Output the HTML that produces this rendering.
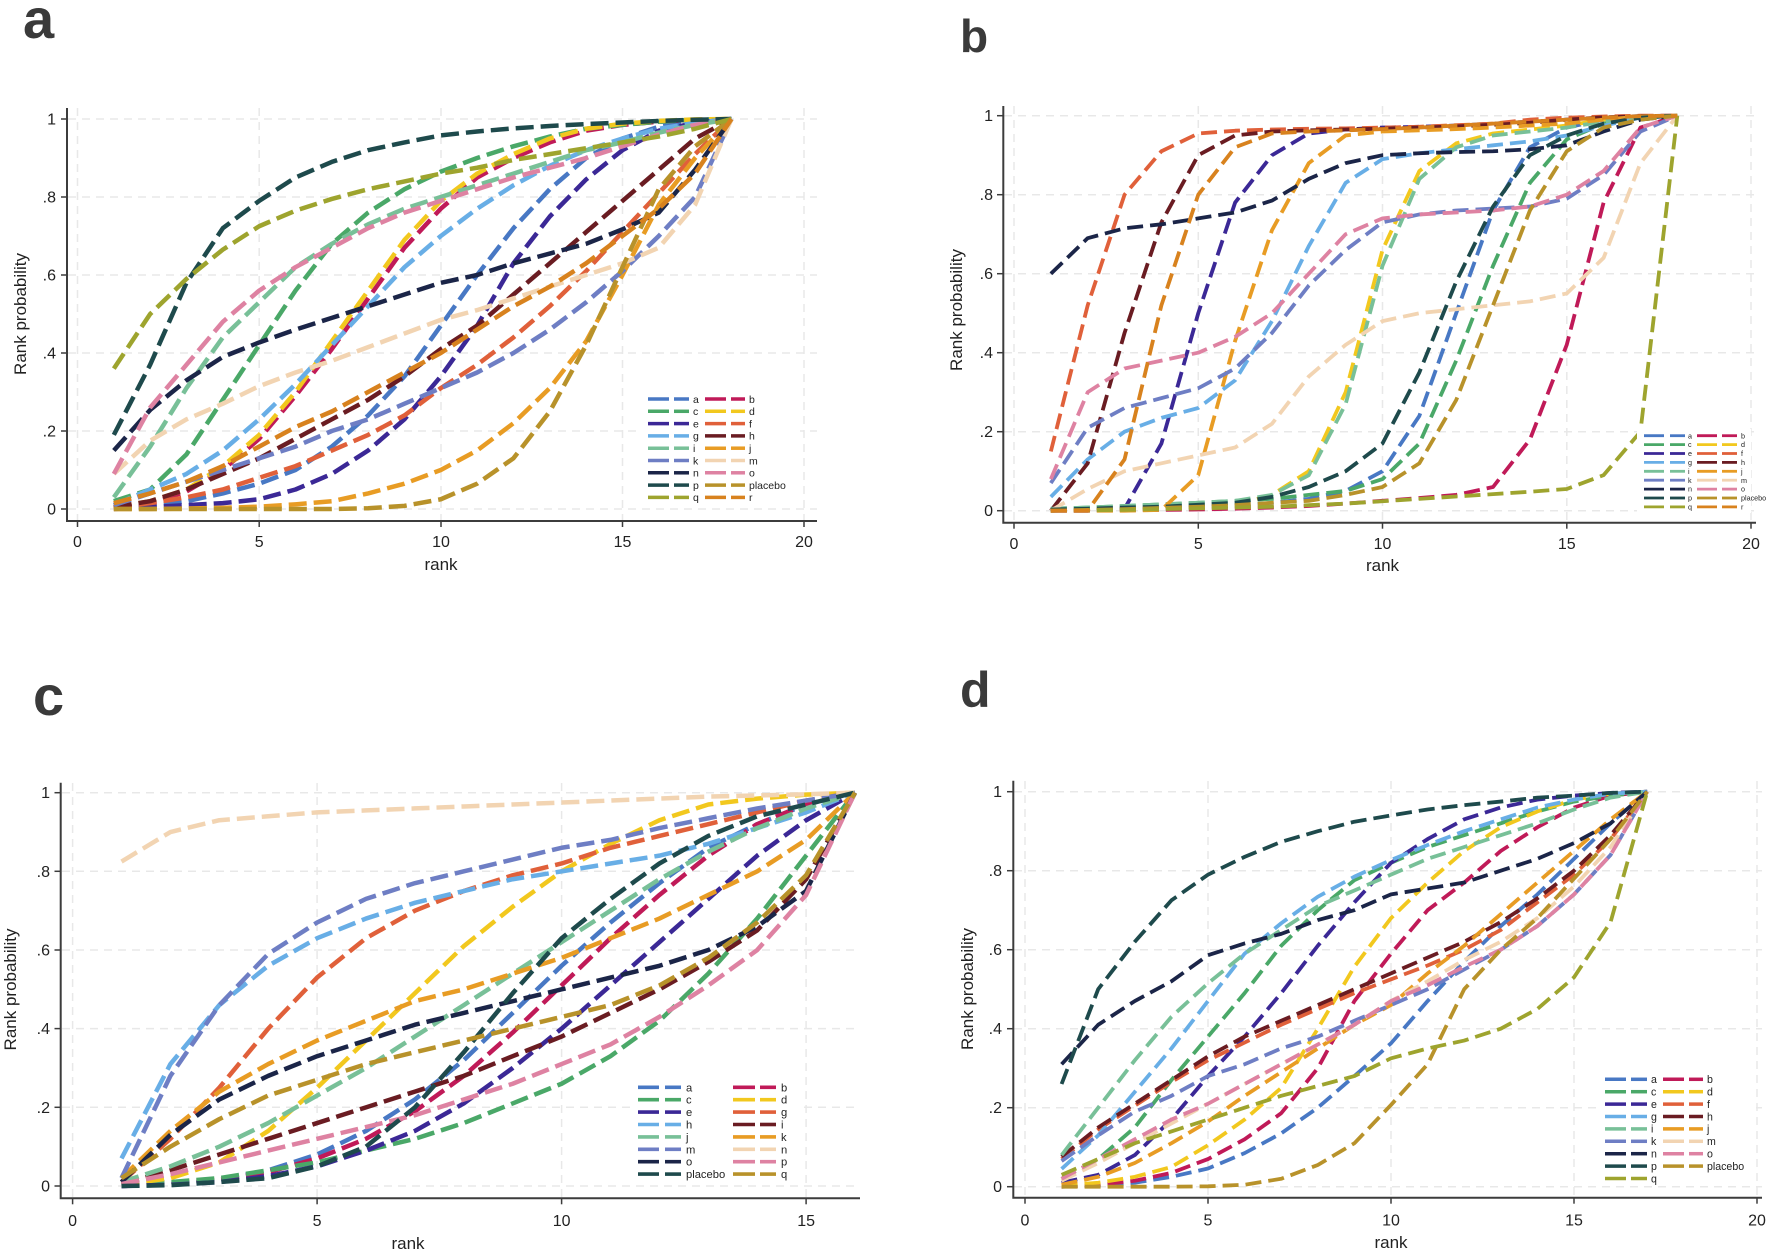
<!DOCTYPE html>
<html><head><meta charset="utf-8">
<style>
html,body{margin:0;padding:0;background:#fff;}
svg{display:block;font-family:"Liberation Sans",Arial,sans-serif;}
.g{stroke:#e8e8e8;stroke-width:1.5;stroke-dasharray:8 6;fill:none}
.ax{stroke:#3c3c3c;stroke-width:2;fill:none}
.tk{stroke:#3c3c3c;stroke-width:1.5}
.t{font-size:16px;fill:#222}
.tt{font-size:17px;fill:#222}
.L{fill:none;stroke-width:4.5;stroke-dasharray:18 7;vector-effect:non-scaling-stroke;stroke-linejoin:round}
.M{fill:none;stroke-width:3.8;stroke-dasharray:16 7;vector-effect:non-scaling-stroke;stroke-linejoin:round}
.c1{stroke:#4878c4}.c2{stroke:#c01a58}.c3{stroke:#4aa868}.c4{stroke:#f2c81e}.c5{stroke:#3b2896}.c6{stroke:#e0603a}
.c7{stroke:#68aee6}.c8{stroke:#6a1c22}.c9{stroke:#78c098}.c10{stroke:#e89c24}.c11{stroke:#6e7ec4}.c12{stroke:#f2d4b2}
.c13{stroke:#1b2548}.c14{stroke:#de82a2}.c15{stroke:#1e4a4c}.c16{stroke:#b8922a}.c17{stroke:#9ea42e}.c18{stroke:#d8821e}
.lab{font-weight:bold;fill:#3a3a3a}
</style></head>
<body>
<svg width="1772" height="1252" viewBox="0 0 1772 1252" xmlns="http://www.w3.org/2000/svg">
<rect width="1772" height="1252" fill="#fff"/>

<!-- Panel letters -->
<text class="lab" x="23" y="38" font-size="56">a</text>
<text class="lab" x="960" y="52" font-size="46">b</text>
<text class="lab" x="33" y="715" font-size="56">c</text>
<text class="lab" x="960" y="707" font-size="50">d</text>

<!-- ================= PANEL A ================= -->
<g>
<line class="g" x1="77.5" y1="108" x2="77.5" y2="520"/>
<line class="g" x1="259.2" y1="108" x2="259.2" y2="520"/>
<line class="g" x1="441" y1="108" x2="441" y2="520"/>
<line class="g" x1="622.5" y1="108" x2="622.5" y2="520"/>
<line class="g" x1="804" y1="108" x2="804" y2="520"/>
<line class="g" x1="68" y1="119" x2="817" y2="119"/>
<line class="g" x1="68" y1="197" x2="817" y2="197"/>
<line class="g" x1="68" y1="275" x2="817" y2="275"/>
<line class="g" x1="68" y1="353" x2="817" y2="353"/>
<line class="g" x1="68" y1="431" x2="817" y2="431"/>
<line class="g" x1="68" y1="509" x2="817" y2="509"/>
<polyline class="ax" points="67,108 67,521 817,521"/>
<g class="tk">
<line x1="61" y1="119" x2="67" y2="119"/><line x1="61" y1="197" x2="67" y2="197"/><line x1="61" y1="275" x2="67" y2="275"/>
<line x1="61" y1="353" x2="67" y2="353"/><line x1="61" y1="431" x2="67" y2="431"/><line x1="61" y1="509" x2="67" y2="509"/>
<line x1="77.5" y1="521" x2="77.5" y2="527"/><line x1="259.2" y1="521" x2="259.2" y2="527"/><line x1="441" y1="521" x2="441" y2="527"/>
<line x1="622.5" y1="521" x2="622.5" y2="527"/><line x1="804" y1="521" x2="804" y2="527"/>
</g>
<g class="t" text-anchor="end">
<text x="56" y="124.5">1</text><text x="56" y="202.5">.8</text><text x="56" y="280.5">.6</text>
<text x="56" y="358.5">.4</text><text x="56" y="436.5">.2</text><text x="56" y="514.5">0</text>
</g>
<g class="t" text-anchor="middle">
<text x="77.5" y="547">0</text><text x="259.2" y="547">5</text><text x="441" y="547">10</text>
<text x="622.5" y="547">15</text><text x="804" y="547">20</text>
</g>
<text class="tt" x="441" y="570" text-anchor="middle">rank</text>
<text class="tt" transform="translate(26,314) rotate(-90)" text-anchor="middle">Rank probability</text>

<g transform="translate(77.5,509) scale(36.33,-390)">
<polyline class="L c1" points="1,.005 2,.01 3,.02 4,.04 5,.065 6,.1 7,.16 8,.24 9,.34 10,.47 11,.6 12,.72 13,.82 14,.9 15,.95 16,.98 17,.995 18,1"/>
<polyline class="L c2" points="1,.005 2,.015 3,.045 4,.1 5,.18 6,.29 7,.41 8,.54 9,.67 10,.77 11,.85 12,.9 13,.94 14,.97 15,.985 16,.993 17,.998 18,1"/>
<polyline class="L c3" points="1,.02 2,.05 3,.14 4,.28 5,.42 6,.56 7,.68 8,.76 9,.82 10,.865 11,.9 12,.93 13,.955 14,.975 15,.985 16,.993 17,.998 18,1"/>
<polyline class="L c4" points="1,.005 2,.02 3,.05 4,.11 5,.19 6,.3 7,.43 8,.56 9,.69 10,.79 11,.86 12,.91 13,.95 14,.975 15,.988 16,.995 17,.999 18,1"/>
<polyline class="L c5" points="1,0 2,.005 3,.01 4,.015 5,.025 6,.05 7,.09 8,.15 9,.23 10,.34 11,.47 12,.63 13,.75 14,.845 15,.92 16,.97 17,.99 18,1"/>
<polyline class="L c6" points="1,.005 2,.015 3,.03 4,.05 5,.08 6,.11 7,.15 8,.19 9,.24 10,.31 11,.37 12,.44 13,.52 14,.61 15,.71 16,.81 17,.91 18,1"/>
<polyline class="L c7" points="1,.01 2,.05 3,.09 4,.15 5,.23 6,.32 7,.42 8,.52 9,.62 10,.7 11,.77 12,.83 13,.88 14,.92 15,.95 16,.975 17,.99 18,1"/>
<polyline class="L c8" points="1,.005 2,.02 3,.05 4,.09 5,.13 6,.18 7,.23 8,.28 9,.34 10,.41 11,.47 12,.55 13,.63 14,.71 15,.79 16,.87 17,.95 18,1"/>
<polyline class="L c9" points="1,.03 2,.16 3,.31 4,.44 5,.53 6,.62 7,.68 8,.73 9,.77 10,.8 11,.83 12,.86 13,.89 14,.92 15,.94 16,.965 17,.985 18,1"/>
<polyline class="L c10" points="1,0 2,0 3,.001 4,.003 5,.006 6,.012 7,.02 8,.04 9,.065 10,.1 11,.15 12,.22 13,.31 14,.43 15,.6 16,.78 17,.9 18,1"/>
<polyline class="L c11" points="1,.01 2,.04 3,.07 4,.1 5,.13 6,.16 7,.2 8,.23 9,.27 10,.31 11,.35 12,.4 13,.46 14,.53 15,.61 16,.7 17,.8 18,1"/>
<polyline class="L c12" points="1,.09 2,.175 3,.23 4,.27 5,.315 6,.35 7,.38 8,.415 9,.45 10,.485 11,.51 12,.54 13,.57 14,.6 15,.63 16,.67 17,.78 18,1"/>
<polyline class="L c13" points="1,.15 2,.254 3,.33 4,.39 5,.427 6,.46 7,.49 8,.52 9,.55 10,.58 11,.6 12,.63 13,.655 14,.68 15,.717 16,.76 17,.87 18,1"/>
<polyline class="L c14" points="1,.09 2,.26 3,.37 4,.48 5,.56 6,.62 7,.67 8,.72 9,.76 10,.79 11,.82 12,.85 13,.875 14,.9 15,.93 16,.96 17,.985 18,1"/>
<polyline class="L c15" points="1,.19 2,.37 3,.58 4,.72 5,.79 6,.85 7,.89 8,.92 9,.94 10,.958 11,.968 12,.976 13,.982 14,.987 15,.991 16,.995 17,.998 18,1"/>
<polyline class="L c16" points="1,0 2,0 3,0 4,0 5,0 6,0 7,0 8,.002 9,.008 10,.025 11,.065 12,.13 13,.25 14,.42 15,.62 16,.82 17,.93 18,1"/>
<polyline class="L c17" points="1,.36 2,.5 3,.59 4,.665 5,.725 6,.765 7,.795 8,.82 9,.84 10,.86 11,.875 12,.895 13,.91 14,.925 15,.94 16,.955 17,.975 18,1"/>
<polyline class="L c18" points="1,.015 2,.04 3,.07 4,.11 5,.16 6,.21 7,.25 8,.3 9,.35 10,.4 11,.46 12,.52 13,.57 14,.63 15,.7 16,.77 17,.86 18,1"/>
</g>

<!-- legend a -->
<rect x="640" y="390" width="160" height="116" fill="#fff"/>
<g stroke-width="3.5" font-size="10.5" fill="#222">
<g transform="translate(0,399)"><line class="c1" x1="648" x2="669" y1="0" y2="0"/><line class="c1" x1="674" x2="689" y1="0" y2="0"/><text x="693" y="3.8">a</text><line class="c2" x1="705" x2="726" y1="0" y2="0"/><line class="c2" x1="731" x2="745" y1="0" y2="0"/><text x="749" y="3.8">b</text></g>
<g transform="translate(0,411.3)"><line class="c3" x1="648" x2="669" y1="0" y2="0"/><line class="c3" x1="674" x2="689" y1="0" y2="0"/><text x="693" y="3.8">c</text><line class="c4" x1="705" x2="726" y1="0" y2="0"/><line class="c4" x1="731" x2="745" y1="0" y2="0"/><text x="749" y="3.8">d</text></g>
<g transform="translate(0,423.6)"><line class="c5" x1="648" x2="669" y1="0" y2="0"/><line class="c5" x1="674" x2="689" y1="0" y2="0"/><text x="693" y="3.8">e</text><line class="c6" x1="705" x2="726" y1="0" y2="0"/><line class="c6" x1="731" x2="745" y1="0" y2="0"/><text x="749" y="3.8">f</text></g>
<g transform="translate(0,435.9)"><line class="c7" x1="648" x2="669" y1="0" y2="0"/><line class="c7" x1="674" x2="689" y1="0" y2="0"/><text x="693" y="3.8">g</text><line class="c8" x1="705" x2="726" y1="0" y2="0"/><line class="c8" x1="731" x2="745" y1="0" y2="0"/><text x="749" y="3.8">h</text></g>
<g transform="translate(0,448.2)"><line class="c9" x1="648" x2="669" y1="0" y2="0"/><line class="c9" x1="674" x2="689" y1="0" y2="0"/><text x="693" y="3.8">i</text><line class="c10" x1="705" x2="726" y1="0" y2="0"/><line class="c10" x1="731" x2="745" y1="0" y2="0"/><text x="749" y="3.8">j</text></g>
<g transform="translate(0,460.5)"><line class="c11" x1="648" x2="669" y1="0" y2="0"/><line class="c11" x1="674" x2="689" y1="0" y2="0"/><text x="693" y="3.8">k</text><line class="c12" x1="705" x2="726" y1="0" y2="0"/><line class="c12" x1="731" x2="745" y1="0" y2="0"/><text x="749" y="3.8">m</text></g>
<g transform="translate(0,472.8)"><line class="c13" x1="648" x2="669" y1="0" y2="0"/><line class="c13" x1="674" x2="689" y1="0" y2="0"/><text x="693" y="3.8">n</text><line class="c14" x1="705" x2="726" y1="0" y2="0"/><line class="c14" x1="731" x2="745" y1="0" y2="0"/><text x="749" y="3.8">o</text></g>
<g transform="translate(0,485.1)"><line class="c15" x1="648" x2="669" y1="0" y2="0"/><line class="c15" x1="674" x2="689" y1="0" y2="0"/><text x="693" y="3.8">p</text><line class="c16" x1="705" x2="726" y1="0" y2="0"/><line class="c16" x1="731" x2="745" y1="0" y2="0"/><text x="749" y="3.8">placebo</text></g>
<g transform="translate(0,497.4)"><line class="c17" x1="648" x2="669" y1="0" y2="0"/><line class="c17" x1="674" x2="689" y1="0" y2="0"/><text x="693" y="3.8">q</text><line class="c18" x1="705" x2="726" y1="0" y2="0"/><line class="c18" x1="731" x2="745" y1="0" y2="0"/><text x="749" y="3.8">r</text></g>
</g>
</g>

<!-- ================= PANEL B ================= -->
<g>
<line class="g" x1="1014" y1="106" x2="1014" y2="522"/>
<line class="g" x1="1198.3" y1="106" x2="1198.3" y2="522"/>
<line class="g" x1="1382.5" y1="106" x2="1382.5" y2="522"/>
<line class="g" x1="1566.8" y1="106" x2="1566.8" y2="522"/>
<line class="g" x1="1751" y1="106" x2="1751" y2="522"/>
<line class="g" x1="1004" y1="115.7" x2="1756" y2="115.7"/>
<line class="g" x1="1004" y1="194.7" x2="1756" y2="194.7"/>
<line class="g" x1="1004" y1="273.7" x2="1756" y2="273.7"/>
<line class="g" x1="1004" y1="352.7" x2="1756" y2="352.7"/>
<line class="g" x1="1004" y1="431.7" x2="1756" y2="431.7"/>
<line class="g" x1="1004" y1="510.7" x2="1756" y2="510.7"/>
<polyline class="ax" points="1003.3,106 1003.3,522.7 1756,522.7"/>
<g class="tk">
<line x1="997" y1="115.7" x2="1003" y2="115.7"/><line x1="997" y1="194.7" x2="1003" y2="194.7"/><line x1="997" y1="273.7" x2="1003" y2="273.7"/>
<line x1="997" y1="352.7" x2="1003" y2="352.7"/><line x1="997" y1="431.7" x2="1003" y2="431.7"/><line x1="997" y1="510.7" x2="1003" y2="510.7"/>
<line x1="1014" y1="522.7" x2="1014" y2="528.7"/><line x1="1198.3" y1="522.7" x2="1198.3" y2="528.7"/><line x1="1382.5" y1="522.7" x2="1382.5" y2="528.7"/>
<line x1="1566.8" y1="522.7" x2="1566.8" y2="528.7"/><line x1="1751" y1="522.7" x2="1751" y2="528.7"/>
</g>
<g class="t" text-anchor="end">
<text x="993" y="121.2">1</text><text x="993" y="200.2">.8</text><text x="993" y="279.2">.6</text>
<text x="993" y="358.2">.4</text><text x="993" y="437.2">.2</text><text x="993" y="516.2">0</text>
</g>
<g class="t" text-anchor="middle">
<text x="1014" y="549">0</text><text x="1198.3" y="549">5</text><text x="1382.5" y="549">10</text>
<text x="1566.8" y="549">15</text><text x="1751" y="549">20</text>
</g>
<text class="tt" x="1382.5" y="571" text-anchor="middle">rank</text>
<text class="tt" transform="translate(962,310) rotate(-90)" text-anchor="middle">Rank probability</text>

<g transform="translate(1014,510.7) scale(36.85,-395)">
<polyline class="M c1" points="1,0 2,.001 3,.003 4,.005 5,.008 6,.012 7,.02 8,.03 9,.05 10,.1 11,.24 12,.5 13,.76 14,.92 15,.97 16,.99 17,.998 18,1"/>
<polyline class="M c2" points="1,0 2,0 3,.001 4,.002 5,.003 6,.005 7,.008 8,.012 9,.018 10,.025 11,.032 12,.04 13,.06 14,.18 15,.42 16,.78 17,.97 18,1"/>
<polyline class="M c3" points="1,.005 2,.008 3,.012 4,.016 5,.02 6,.025 7,.03 8,.04 9,.05 10,.08 11,.17 12,.38 13,.62 14,.83 15,.94 16,.98 17,.995 18,1"/>
<polyline class="M c4" points="1,0 2,.002 3,.004 4,.007 5,.01 6,.015 7,.04 8,.1 9,.3 10,.66 11,.86 12,.93 13,.955 14,.965 15,.975 16,.99 17,.998 18,1"/>
<polyline class="M c5" points="1,0 2,0 3,.005 4,.17 5,.5 6,.78 7,.9 8,.955 9,.965 10,.97 11,.972 12,.975 13,.98 14,.985 15,.99 16,.995 17,.999 18,1"/>
<polyline class="M c6" points="1,.15 2,.52 3,.8 4,.91 5,.955 6,.962 7,.965 8,.967 9,.968 10,.97 11,.972 12,.976 13,.98 14,.99 15,.995 16,.998 17,1 18,1"/>
<polyline class="M c7" points="1,.035 2,.13 3,.2 4,.235 5,.26 6,.33 7,.48 8,.67 9,.83 10,.89 11,.905 12,.915 13,.925 14,.935 15,.95 16,.975 17,.995 18,1"/>
<polyline class="M c8" points="1,0 2,.12 3,.45 4,.73 5,.9 6,.95 7,.96 8,.963 9,.965 10,.967 11,.97 12,.973 13,.977 14,.982 15,.99 16,.996 17,.999 18,1"/>
<polyline class="M c9" points="1,.005 2,.008 3,.012 4,.016 5,.02 6,.025 7,.04 8,.09 9,.27 10,.62 11,.84 12,.92 13,.95 14,.96 15,.97 16,.985 17,.997 18,1"/>
<polyline class="M c10" points="1,0 2,0 3,0 4,.002 5,.09 6,.43 7,.71 8,.88 9,.95 10,.96 11,.963 12,.966 13,.97 14,.975 15,.98 16,.99 17,.998 18,1"/>
<polyline class="M c11" points="1,.07 2,.21 3,.26 4,.285 5,.31 6,.36 7,.45 8,.57 9,.66 10,.73 11,.75 12,.76 13,.765 14,.77 15,.79 16,.85 17,.96 18,1"/>
<polyline class="M c12" points="1,0 2,.055 3,.1 4,.12 5,.14 6,.16 7,.22 8,.34 9,.42 10,.48 11,.5 12,.51 13,.52 14,.53 15,.55 16,.64 17,.88 18,1"/>
<polyline class="M c13" points="1,.6 2,.69 3,.715 4,.725 5,.74 6,.755 7,.785 8,.84 9,.88 10,.9 11,.905 12,.908 13,.91 14,.915 15,.925 16,.96 17,.99 18,1"/>
<polyline class="M c14" points="1,.08 2,.3 3,.36 4,.38 5,.4 6,.44 7,.5 8,.6 9,.7 10,.74 11,.75 12,.755 13,.76 14,.77 15,.8 16,.86 17,.97 18,1"/>
<polyline class="M c15" points="1,.003 2,.005 3,.008 4,.01 5,.015 6,.02 7,.035 8,.06 9,.1 10,.17 11,.35 12,.58 13,.77 14,.9 15,.95 16,.98 17,.995 18,1"/>
<polyline class="M c16" points="1,0 2,.002 3,.004 4,.007 5,.01 6,.014 7,.02 8,.025 9,.04 10,.06 11,.12 12,.28 13,.52 14,.76 15,.91 16,.97 17,.99 18,1"/>
<polyline class="M c17" points="1,0 2,.001 3,.002 4,.004 5,.006 6,.008 7,.01 8,.014 9,.018 10,.024 11,.03 12,.036 13,.042 14,.048 15,.055 16,.09 17,.2 18,1"/>
<polyline class="M c18" points="1,0 2,0 3,.13 4,.52 5,.8 6,.92 7,.955 8,.96 9,.963 10,.966 11,.97 12,.975 13,.98 14,.985 15,.99 16,.995 17,.999 18,1"/>
</g>

<!-- legend b -->
<rect x="1637" y="429" width="114" height="84" fill="#fff"/>
<g stroke-width="2.8" font-size="7.2" fill="#222">
<g transform="translate(0,435.7)"><line class="c1" x1="1644" x2="1664" y1="0" y2="0"/><line class="c1" x1="1670" x2="1685" y1="0" y2="0"/><text x="1688" y="2.6">a</text><line class="c2" x1="1697" x2="1717" y1="0" y2="0"/><line class="c2" x1="1722" x2="1737" y1="0" y2="0"/><text x="1741" y="2.6">b</text></g>
<g transform="translate(0,444.6)"><line class="c3" x1="1644" x2="1664" y1="0" y2="0"/><line class="c3" x1="1670" x2="1685" y1="0" y2="0"/><text x="1688" y="2.6">c</text><line class="c4" x1="1697" x2="1717" y1="0" y2="0"/><line class="c4" x1="1722" x2="1737" y1="0" y2="0"/><text x="1741" y="2.6">d</text></g>
<g transform="translate(0,453.5)"><line class="c5" x1="1644" x2="1664" y1="0" y2="0"/><line class="c5" x1="1670" x2="1685" y1="0" y2="0"/><text x="1688" y="2.6">e</text><line class="c6" x1="1697" x2="1717" y1="0" y2="0"/><line class="c6" x1="1722" x2="1737" y1="0" y2="0"/><text x="1741" y="2.6">f</text></g>
<g transform="translate(0,462.4)"><line class="c7" x1="1644" x2="1664" y1="0" y2="0"/><line class="c7" x1="1670" x2="1685" y1="0" y2="0"/><text x="1688" y="2.6">g</text><line class="c8" x1="1697" x2="1717" y1="0" y2="0"/><line class="c8" x1="1722" x2="1737" y1="0" y2="0"/><text x="1741" y="2.6">h</text></g>
<g transform="translate(0,471.3)"><line class="c9" x1="1644" x2="1664" y1="0" y2="0"/><line class="c9" x1="1670" x2="1685" y1="0" y2="0"/><text x="1688" y="2.6">i</text><line class="c10" x1="1697" x2="1717" y1="0" y2="0"/><line class="c10" x1="1722" x2="1737" y1="0" y2="0"/><text x="1741" y="2.6">j</text></g>
<g transform="translate(0,480.2)"><line class="c11" x1="1644" x2="1664" y1="0" y2="0"/><line class="c11" x1="1670" x2="1685" y1="0" y2="0"/><text x="1688" y="2.6">k</text><line class="c12" x1="1697" x2="1717" y1="0" y2="0"/><line class="c12" x1="1722" x2="1737" y1="0" y2="0"/><text x="1741" y="2.6">m</text></g>
<g transform="translate(0,489.1)"><line class="c13" x1="1644" x2="1664" y1="0" y2="0"/><line class="c13" x1="1670" x2="1685" y1="0" y2="0"/><text x="1688" y="2.6">n</text><line class="c14" x1="1697" x2="1717" y1="0" y2="0"/><line class="c14" x1="1722" x2="1737" y1="0" y2="0"/><text x="1741" y="2.6">o</text></g>
<g transform="translate(0,498)"><line class="c15" x1="1644" x2="1664" y1="0" y2="0"/><line class="c15" x1="1670" x2="1685" y1="0" y2="0"/><text x="1688" y="2.6">p</text><line class="c16" x1="1697" x2="1717" y1="0" y2="0"/><line class="c16" x1="1722" x2="1737" y1="0" y2="0"/><text x="1741" y="2.6">placebo</text></g>
<g transform="translate(0,506.9)"><line class="c17" x1="1644" x2="1664" y1="0" y2="0"/><line class="c17" x1="1670" x2="1685" y1="0" y2="0"/><text x="1688" y="2.6">q</text><line class="c18" x1="1697" x2="1717" y1="0" y2="0"/><line class="c18" x1="1722" x2="1737" y1="0" y2="0"/><text x="1741" y="2.6">r</text></g>
</g>
</g>

<!-- ================= PANEL C ================= -->
<g>
<line class="g" x1="72.6" y1="783" x2="72.6" y2="1197"/>
<line class="g" x1="317.1" y1="783" x2="317.1" y2="1197"/>
<line class="g" x1="561.6" y1="783" x2="561.6" y2="1197"/>
<line class="g" x1="806.1" y1="783" x2="806.1" y2="1197"/>
<line class="g" x1="62" y1="792.7" x2="860" y2="792.7"/>
<line class="g" x1="62" y1="871.3" x2="860" y2="871.3"/>
<line class="g" x1="62" y1="950" x2="860" y2="950"/>
<line class="g" x1="62" y1="1028.6" x2="860" y2="1028.6"/>
<line class="g" x1="62" y1="1107.3" x2="860" y2="1107.3"/>
<line class="g" x1="62" y1="1186" x2="860" y2="1186"/>
<polyline class="ax" points="60.7,782.7 60.7,1198.3 860,1198.3"/>
<g class="tk">
<line x1="54.5" y1="792.7" x2="60.7" y2="792.7"/><line x1="54.5" y1="871.3" x2="60.7" y2="871.3"/><line x1="54.5" y1="950" x2="60.7" y2="950"/>
<line x1="54.5" y1="1028.6" x2="60.7" y2="1028.6"/><line x1="54.5" y1="1107.3" x2="60.7" y2="1107.3"/><line x1="54.5" y1="1186" x2="60.7" y2="1186"/>
<line x1="72.6" y1="1198.3" x2="72.6" y2="1204.3"/><line x1="317.1" y1="1198.3" x2="317.1" y2="1204.3"/><line x1="561.6" y1="1198.3" x2="561.6" y2="1204.3"/>
<line x1="806.1" y1="1198.3" x2="806.1" y2="1204.3"/>
</g>
<g class="t" text-anchor="end">
<text x="50" y="798.2">1</text><text x="50" y="876.8">.8</text><text x="50" y="955.5">.6</text>
<text x="50" y="1034.1">.4</text><text x="50" y="1112.8">.2</text><text x="50" y="1191.5">0</text>
</g>
<g class="t" text-anchor="middle">
<text x="72.6" y="1226">0</text><text x="317.1" y="1226">5</text><text x="561.6" y="1226">10</text>
<text x="806.1" y="1226">15</text>
</g>
<text class="tt" x="408" y="1249" text-anchor="middle">rank</text>
<text class="tt" transform="translate(16,989.5) rotate(-90)" text-anchor="middle">Rank probability</text>

<g transform="translate(72.6,1186) scale(48.9,-393.3)">
<polyline class="L c1" points="1,0 2,.005 3,.015 4,.04 5,.08 6,.14 7,.22 8,.32 9,.44 10,.56 11,.67 12,.77 13,.86 14,.92 15,.97 16,1"/>
<polyline class="L c2" points="1,0 2,.005 3,.015 4,.035 5,.07 6,.12 7,.19 8,.28 9,.39 10,.51 11,.63 12,.74 13,.84 14,.92 15,.97 16,1"/>
<polyline class="L c3" points="1,.005 2,.01 3,.02 4,.04 5,.06 6,.09 7,.12 8,.16 9,.21 10,.26 11,.33 12,.42 13,.54 14,.68 15,.84 16,1"/>
<polyline class="L c4" points="1,.003 2,.02 3,.06 4,.14 5,.25 6,.37 7,.49 8,.61 9,.71 10,.8 11,.87 12,.93 13,.97 14,.985 15,.995 16,1"/>
<polyline class="L c5" points="1,0 2,.003 3,.01 4,.025 5,.05 6,.09 7,.14 8,.21 9,.3 10,.4 11,.51 12,.62 13,.73 14,.84 15,.93 16,1"/>
<polyline class="L c6" points="1,.01 2,.12 3,.25 4,.4 5,.53 6,.63 7,.7 8,.75 9,.79 10,.82 11,.86 12,.89 13,.92 14,.95 15,.98 16,1"/>
<polyline class="L c7" points="1,.07 2,.31 3,.46 4,.56 5,.63 6,.68 7,.72 8,.75 9,.78 10,.8 11,.82 12,.84 13,.87 14,.91 15,.95 16,1"/>
<polyline class="L c8" points="1,.005 2,.04 3,.08 4,.12 5,.16 6,.2 7,.24 8,.28 9,.33 10,.38 11,.44 12,.5 13,.57 14,.65 15,.78 16,1"/>
<polyline class="L c9" points="1,.01 2,.05 3,.1 4,.16 5,.23 6,.3 7,.38 8,.46 9,.54 10,.62 11,.7 12,.78 13,.85 14,.91 15,.96 16,1"/>
<polyline class="L c10" points="1,.02 2,.14 3,.24 4,.31 5,.37 6,.42 7,.47 8,.5 9,.54 10,.58 11,.63 12,.68 13,.74 14,.8 15,.88 16,1"/>
<polyline class="L c11" points="1,.02 2,.28 3,.46 4,.59 5,.67 6,.73 7,.77 8,.8 9,.83 10,.86 11,.88 12,.91 13,.935 14,.96 15,.98 16,1"/>
<polyline class="L c12" points="1,.825 2,.9 3,.93 4,.94 5,.95 6,.955 7,.96 8,.965 9,.97 10,.975 11,.98 12,.985 13,.99 14,.993 15,.996 16,1"/>
<polyline class="L c13" points="1,.01 2,.13 3,.22 4,.28 5,.33 6,.37 7,.41 8,.44 9,.47 10,.5 11,.53 12,.56 13,.6 14,.66 15,.75 16,1"/>
<polyline class="L c14" points="1,.005 2,.03 3,.06 4,.09 5,.12 6,.15 7,.18 8,.22 9,.26 10,.31 11,.36 12,.43 13,.51 14,.6 15,.74 16,1"/>
<polyline class="L c15" points="1,0 2,.002 3,.01 4,.02 5,.05 6,.1 7,.2 8,.34 9,.49 10,.63 11,.73 12,.82 13,.89 14,.94 15,.97 16,1"/>
<polyline class="L c16" points="1,.02 2,.1 3,.17 4,.23 5,.27 6,.31 7,.34 8,.37 9,.4 10,.43 11,.46 12,.51 13,.58 14,.67 15,.79 16,1"/>
</g>

<!-- legend c -->
<rect x="633" y="1076" width="167" height="106" fill="#fff"/>
<g stroke-width="3.6" font-size="11.2" fill="#222">
<g transform="translate(0,1087.3)"><line class="c1" x1="638" x2="659" y1="0" y2="0"/><line class="c1" x1="665" x2="681" y1="0" y2="0"/><text x="686" y="4">a</text><line class="c2" x1="733" x2="755" y1="0" y2="0"/><line class="c2" x1="760" x2="776" y1="0" y2="0"/><text x="781" y="4">b</text></g>
<g transform="translate(0,1099.7)"><line class="c3" x1="638" x2="659" y1="0" y2="0"/><line class="c3" x1="665" x2="681" y1="0" y2="0"/><text x="686" y="4">c</text><line class="c4" x1="733" x2="755" y1="0" y2="0"/><line class="c4" x1="760" x2="776" y1="0" y2="0"/><text x="781" y="4">d</text></g>
<g transform="translate(0,1112.1)"><line class="c5" x1="638" x2="659" y1="0" y2="0"/><line class="c5" x1="665" x2="681" y1="0" y2="0"/><text x="686" y="4">e</text><line class="c6" x1="733" x2="755" y1="0" y2="0"/><line class="c6" x1="760" x2="776" y1="0" y2="0"/><text x="781" y="4">g</text></g>
<g transform="translate(0,1124.5)"><line class="c7" x1="638" x2="659" y1="0" y2="0"/><line class="c7" x1="665" x2="681" y1="0" y2="0"/><text x="686" y="4">h</text><line class="c8" x1="733" x2="755" y1="0" y2="0"/><line class="c8" x1="760" x2="776" y1="0" y2="0"/><text x="781" y="4">i</text></g>
<g transform="translate(0,1136.9)"><line class="c9" x1="638" x2="659" y1="0" y2="0"/><line class="c9" x1="665" x2="681" y1="0" y2="0"/><text x="686" y="4">j</text><line class="c10" x1="733" x2="755" y1="0" y2="0"/><line class="c10" x1="760" x2="776" y1="0" y2="0"/><text x="781" y="4">k</text></g>
<g transform="translate(0,1149.3)"><line class="c11" x1="638" x2="659" y1="0" y2="0"/><line class="c11" x1="665" x2="681" y1="0" y2="0"/><text x="686" y="4">m</text><line class="c12" x1="733" x2="755" y1="0" y2="0"/><line class="c12" x1="760" x2="776" y1="0" y2="0"/><text x="781" y="4">n</text></g>
<g transform="translate(0,1161.7)"><line class="c13" x1="638" x2="659" y1="0" y2="0"/><line class="c13" x1="665" x2="681" y1="0" y2="0"/><text x="686" y="4">o</text><line class="c14" x1="733" x2="755" y1="0" y2="0"/><line class="c14" x1="760" x2="776" y1="0" y2="0"/><text x="781" y="4">p</text></g>
<g transform="translate(0,1174.1)"><line class="c15" x1="638" x2="659" y1="0" y2="0"/><line class="c15" x1="665" x2="681" y1="0" y2="0"/><text x="686" y="4">placebo</text><line class="c16" x1="733" x2="755" y1="0" y2="0"/><line class="c16" x1="760" x2="776" y1="0" y2="0"/><text x="781" y="4">q</text></g>
</g>
</g>

<!-- ================= PANEL D ================= -->
<g>
<line class="g" x1="1025" y1="781" x2="1025" y2="1197"/>
<line class="g" x1="1208" y1="781" x2="1208" y2="1197"/>
<line class="g" x1="1391" y1="781" x2="1391" y2="1197"/>
<line class="g" x1="1574" y1="781" x2="1574" y2="1197"/>
<line class="g" x1="1757" y1="781" x2="1757" y2="1197"/>
<line class="g" x1="1014" y1="791.7" x2="1762" y2="791.7"/>
<line class="g" x1="1014" y1="870.7" x2="1762" y2="870.7"/>
<line class="g" x1="1014" y1="949.7" x2="1762" y2="949.7"/>
<line class="g" x1="1014" y1="1028.7" x2="1762" y2="1028.7"/>
<line class="g" x1="1014" y1="1107.7" x2="1762" y2="1107.7"/>
<line class="g" x1="1014" y1="1186.7" x2="1762" y2="1186.7"/>
<polyline class="ax" points="1013.3,780.7 1013.3,1197.7 1762,1197.7"/>
<g class="tk">
<line x1="1007" y1="791.7" x2="1013" y2="791.7"/><line x1="1007" y1="870.7" x2="1013" y2="870.7"/><line x1="1007" y1="949.7" x2="1013" y2="949.7"/>
<line x1="1007" y1="1028.7" x2="1013" y2="1028.7"/><line x1="1007" y1="1107.7" x2="1013" y2="1107.7"/><line x1="1007" y1="1186.7" x2="1013" y2="1186.7"/>
<line x1="1025" y1="1197.7" x2="1025" y2="1203.7"/><line x1="1208" y1="1197.7" x2="1208" y2="1203.7"/><line x1="1391" y1="1197.7" x2="1391" y2="1203.7"/>
<line x1="1574" y1="1197.7" x2="1574" y2="1203.7"/><line x1="1757" y1="1197.7" x2="1757" y2="1203.7"/>
</g>
<g class="t" text-anchor="end">
<text x="1002" y="797.2">1</text><text x="1002" y="876.2">.8</text><text x="1002" y="955.2">.6</text>
<text x="1002" y="1034.2">.4</text><text x="1002" y="1113.2">.2</text><text x="1002" y="1192.2">0</text>
</g>
<g class="t" text-anchor="middle">
<text x="1025" y="1225.5">0</text><text x="1208" y="1225.5">5</text><text x="1391" y="1225.5">10</text>
<text x="1574" y="1225.5">15</text><text x="1757" y="1225.5">20</text>
</g>
<text class="tt" x="1391" y="1248" text-anchor="middle">rank</text>
<text class="tt" transform="translate(973,989) rotate(-90)" text-anchor="middle">Rank probability</text>

<g transform="translate(1025,1186.7) scale(36.6,-395)">
<polyline class="M c1" points="1,0 2,.003 3,.01 4,.025 5,.046 6,.085 7,.135 8,.2 9,.28 10,.363 11,.47 12,.57 13,.66 14,.74 15,.83 16,.92 17,1"/>
<polyline class="M c2" points="1,0 2,.005 3,.015 4,.035 5,.07 6,.12 7,.186 8,.3 9,.47 10,.59 11,.7 12,.77 13,.85 14,.91 15,.96 16,.99 17,1"/>
<polyline class="M c3" points="1,.02 2,.07 3,.15 4,.27 5,.38 6,.49 7,.61 8,.7 9,.776 10,.82 11,.86 12,.89 13,.92 14,.95 15,.975 16,.99 17,1"/>
<polyline class="M c4" points="1,.003 2,.01 3,.025 4,.05 5,.105 6,.17 7,.25 8,.4 9,.557 10,.68 11,.77 12,.85 13,.91 14,.95 15,.98 16,.995 17,1"/>
<polyline class="M c5" points="1,.01 2,.03 3,.08 4,.17 5,.28 6,.38 7,.49 8,.61 9,.72 10,.82 11,.88 12,.93 13,.96 14,.98 15,.99 16,.997 17,1"/>
<polyline class="M c6" points="1,.07 2,.145 3,.205 4,.265 5,.32 6,.365 7,.41 8,.45 9,.49 10,.525 11,.56 12,.6 13,.65 14,.72 15,.79 16,.88 17,1"/>
<polyline class="M c7" points="1,.045 2,.13 3,.24 4,.35 5,.47 6,.59 7,.667 8,.734 9,.785 10,.827 11,.865 12,.9 13,.93 14,.96 15,.98 16,.995 17,1"/>
<polyline class="M c8" points="1,.076 2,.15 3,.21 4,.27 5,.33 6,.38 7,.42 8,.46 9,.5 10,.54 11,.58 12,.62 13,.67 14,.73 15,.8 16,.89 17,1"/>
<polyline class="M c9" points="1,.08 2,.2 3,.32 4,.43 5,.515 6,.59 7,.65 8,.71 9,.75 10,.79 11,.83 12,.86 13,.89 14,.92 15,.955 16,.985 17,1"/>
<polyline class="M c10" points="1,.005 2,.025 3,.06 4,.11 5,.165 6,.23 7,.29 8,.35 9,.41 10,.46 11,.54 12,.61 13,.69 14,.77 15,.85 16,.93 17,1"/>
<polyline class="M c11" points="1,.065 2,.13 3,.19 4,.23 5,.28 6,.31 7,.35 8,.38 9,.42 10,.46 11,.5 12,.55 13,.6 14,.66 15,.74 16,.84 17,1"/>
<polyline class="M c12" points="1,.015 2,.06 3,.11 4,.16 5,.21 6,.26 7,.31 8,.36 9,.41 10,.47 11,.52 12,.574 13,.62 14,.68 15,.76 16,.86 17,1"/>
<polyline class="M c13" points="1,.31 2,.41 3,.47 4,.52 5,.586 6,.616 7,.64 8,.675 9,.7 10,.74 11,.755 12,.77 13,.8 14,.83 15,.87 16,.92 17,1"/>
<polyline class="M c14" points="1,.02 2,.07 3,.12 4,.17 5,.21 6,.26 7,.31 8,.36 9,.41 10,.47 11,.51 12,.557 13,.6 14,.66 15,.74 16,.84 17,1"/>
<polyline class="M c15" points="1,.26 2,.5 3,.62 4,.725 5,.79 6,.835 7,.873 8,.9 9,.924 10,.94 11,.955 12,.966 13,.975 14,.985 15,.99 16,.997 17,1"/>
<polyline class="M c16" points="1,0 2,0 3,0 4,0 5,.001 6,.005 7,.02 8,.055 9,.11 10,.207 11,.31 12,.5 13,.6 14,.68 15,.78 16,.88 17,1"/>
<polyline class="M c17" points="1,.03 2,.07 3,.11 4,.14 5,.17 6,.2 7,.23 8,.255 9,.28 10,.325 11,.35 12,.37 13,.4 14,.45 15,.53 16,.67 17,1"/>
</g>

<!-- legend d -->
<rect x="1597" y="1069" width="157" height="115" fill="#fff"/>
<g stroke-width="3.5" font-size="10.6" fill="#222">
<g transform="translate(0,1079.3)"><line class="c1" x1="1605" x2="1626" y1="0" y2="0"/><line class="c1" x1="1631" x2="1647" y1="0" y2="0"/><text x="1651" y="3.8">a</text><line class="c2" x1="1663" x2="1684" y1="0" y2="0"/><line class="c2" x1="1689" x2="1703" y1="0" y2="0"/><text x="1707" y="3.8">b</text></g>
<g transform="translate(0,1091.7)"><line class="c3" x1="1605" x2="1626" y1="0" y2="0"/><line class="c3" x1="1631" x2="1647" y1="0" y2="0"/><text x="1651" y="3.8">c</text><line class="c4" x1="1663" x2="1684" y1="0" y2="0"/><line class="c4" x1="1689" x2="1703" y1="0" y2="0"/><text x="1707" y="3.8">d</text></g>
<g transform="translate(0,1104.1)"><line class="c5" x1="1605" x2="1626" y1="0" y2="0"/><line class="c5" x1="1631" x2="1647" y1="0" y2="0"/><text x="1651" y="3.8">e</text><line class="c6" x1="1663" x2="1684" y1="0" y2="0"/><line class="c6" x1="1689" x2="1703" y1="0" y2="0"/><text x="1707" y="3.8">f</text></g>
<g transform="translate(0,1116.5)"><line class="c7" x1="1605" x2="1626" y1="0" y2="0"/><line class="c7" x1="1631" x2="1647" y1="0" y2="0"/><text x="1651" y="3.8">g</text><line class="c8" x1="1663" x2="1684" y1="0" y2="0"/><line class="c8" x1="1689" x2="1703" y1="0" y2="0"/><text x="1707" y="3.8">h</text></g>
<g transform="translate(0,1128.9)"><line class="c9" x1="1605" x2="1626" y1="0" y2="0"/><line class="c9" x1="1631" x2="1647" y1="0" y2="0"/><text x="1651" y="3.8">i</text><line class="c10" x1="1663" x2="1684" y1="0" y2="0"/><line class="c10" x1="1689" x2="1703" y1="0" y2="0"/><text x="1707" y="3.8">j</text></g>
<g transform="translate(0,1141.3)"><line class="c11" x1="1605" x2="1626" y1="0" y2="0"/><line class="c11" x1="1631" x2="1647" y1="0" y2="0"/><text x="1651" y="3.8">k</text><line class="c12" x1="1663" x2="1684" y1="0" y2="0"/><line class="c12" x1="1689" x2="1703" y1="0" y2="0"/><text x="1707" y="3.8">m</text></g>
<g transform="translate(0,1153.7)"><line class="c13" x1="1605" x2="1626" y1="0" y2="0"/><line class="c13" x1="1631" x2="1647" y1="0" y2="0"/><text x="1651" y="3.8">n</text><line class="c14" x1="1663" x2="1684" y1="0" y2="0"/><line class="c14" x1="1689" x2="1703" y1="0" y2="0"/><text x="1707" y="3.8">o</text></g>
<g transform="translate(0,1166.1)"><line class="c15" x1="1605" x2="1626" y1="0" y2="0"/><line class="c15" x1="1631" x2="1647" y1="0" y2="0"/><text x="1651" y="3.8">p</text><line class="c16" x1="1663" x2="1684" y1="0" y2="0"/><line class="c16" x1="1689" x2="1703" y1="0" y2="0"/><text x="1707" y="3.8">placebo</text></g>
<g transform="translate(0,1178.5)"><line class="c17" x1="1605" x2="1626" y1="0" y2="0"/><line class="c17" x1="1631" x2="1647" y1="0" y2="0"/><text x="1651" y="3.8">q</text></g>
</g>
</g>

</svg>
</body></html>
